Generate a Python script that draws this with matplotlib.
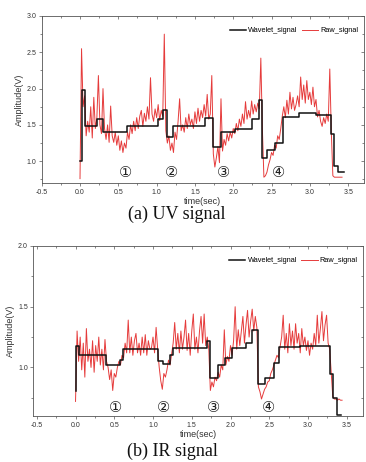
import numpy as np
import matplotlib
matplotlib.use("Agg")
import matplotlib.pyplot as plt
from matplotlib.ticker import MultipleLocator

# ---------------- data ----------------
DT = 0.02  # raw sampling step (s)

uv_raw = [
    0.76, 2.55, 1.75, 1.90, 1.35, 1.55, 1.40, 1.75, 1.32, 1.88,
    1.45, 1.60, 2.18, 1.50, 1.38, 2.00, 1.45, 1.30, 1.50, 1.26,
    1.76, 1.35, 1.26, 1.40, 1.22, 1.35, 1.15, 1.28, 1.12, 1.25,
    1.18, 1.40, 1.30, 1.50, 1.38, 1.55, 1.42, 1.60, 1.45, 1.62,
    1.70, 1.48, 1.66, 1.55, 1.75, 1.58, 2.15, 1.65, 1.55, 1.72,
    1.60, 1.78, 1.56, 1.70, 1.62, 2.75, 1.42, 1.25, 1.35, 1.15,
    1.25, 1.12, 1.40, 1.30, 1.55, 1.86, 1.42, 1.50, 1.40, 1.60,
    1.45, 1.65, 1.50, 1.58, 1.45, 1.68, 1.52, 1.73, 1.55, 1.70,
    1.60, 1.78, 1.62, 1.92, 1.58, 1.65, 2.18, 1.10, 0.92, 1.05,
    1.20, 0.98, 1.86, 1.14, 1.30, 1.22, 1.38, 1.28, 1.40, 1.32,
    1.45, 1.38, 1.52, 1.42, 1.58, 1.48, 1.65, 1.52, 1.82, 1.58,
    1.70, 1.60, 1.83, 1.65, 1.78, 1.68, 1.80, 1.72, 2.42, 1.45,
    0.78, 0.80, 0.85, 0.95, 1.02, 1.12, 1.08, 1.22, 1.18, 1.35,
    1.30, 1.45, 1.62, 1.75, 1.60, 1.84, 1.65, 1.95, 1.72, 1.88,
    1.70, 1.78, 1.90, 1.75, 2.16, 1.85, 2.05, 1.80, 2.11, 1.85,
    1.95, 1.78, 2.02, 1.75, 1.85, 1.61, 1.70, 1.55, 1.48, 1.60,
    1.52, 1.65, 1.55, 2.27, 1.40, 0.80, 0.78, 0.78, 0.78, 0.78,
    0.78, 0.78,
]

uv_wav_t = [0.0, 0.02, 0.06, 0.22, 0.30, 0.61, 1.02, 1.08, 1.13, 1.22, 1.63,
            1.74, 1.84, 2.02, 2.24, 2.33, 2.37, 2.38, 2.44, 2.54, 2.65, 2.86,
            3.08, 3.28, 3.31, 3.37, 3.44]
uv_wav_v = [1.0, 1.98, 1.48, 1.58, 1.40, 1.48, 1.58, 1.70, 1.34, 1.48, 1.60,
            1.20, 1.40, 1.45, 1.58, 1.84, 1.25, 1.04, 1.15, 1.25, 1.61, 1.66,
            1.64, 1.38, 0.94, 0.85, 0.85]

ir_raw = [
    0.72, 1.30, 1.05, 1.25, 0.98, 1.20, 0.92, 1.32, 1.05, 1.15,
    1.00, 1.22, 0.96, 1.18, 1.05, 1.25, 1.02, 1.15, 0.98, 1.23,
    1.05, 1.00, 0.90, 0.98, 0.81, 0.95, 0.92, 1.00, 1.05, 1.02,
    1.10, 1.08, 1.20, 1.12, 1.39, 1.12, 1.25, 1.10, 1.22, 1.28,
    1.12, 1.20, 1.10, 1.25, 1.12, 1.27, 1.10, 1.22, 1.15, 1.16,
    1.25, 1.12, 1.33, 1.15, 1.00, 0.89, 0.82, 0.95, 0.92, 0.98,
    1.06, 1.02, 1.11, 1.20, 1.37, 1.15, 1.28, 1.12, 1.30, 1.15,
    1.25, 1.39, 1.14, 1.28, 1.10, 1.30, 1.44, 1.15, 1.25, 1.12,
    1.30, 1.42, 1.20, 1.44, 1.18, 1.25, 1.15, 0.81, 0.88, 0.84,
    0.92, 0.89, 0.96, 0.92, 1.02, 0.98, 1.31, 1.02, 1.09, 1.05,
    1.18, 1.10, 1.22, 1.50, 1.15, 1.31, 1.18, 1.30, 1.42, 1.20,
    1.35, 1.47, 1.25, 1.38, 1.48, 1.30, 1.42, 1.33, 0.84, 0.80,
    0.74, 0.78, 0.82, 0.84, 0.88, 0.89, 0.95, 0.98, 1.02, 1.06,
    1.10, 1.08, 1.17, 1.25, 1.43, 1.15, 1.28, 1.12, 1.36, 1.18,
    1.30, 1.15, 1.36, 1.20, 1.28, 1.12, 1.32, 1.18, 1.25, 1.14,
    1.22, 1.10, 1.20, 1.15, 1.28, 1.18, 1.43, 1.20, 1.32, 1.46,
    1.22, 1.35, 1.43, 1.20, 1.15, 0.95, 0.76, 0.74, 0.74, 0.73,
    0.74, 0.73, 0.73,
]

ir_wav_t = [0.0, 0.01, 0.04, 0.39, 0.57, 0.61, 1.07, 1.13, 1.22, 1.26, 1.70,
            1.73, 1.84, 1.93, 2.02, 2.20, 2.28, 2.35, 2.44, 2.56, 2.63, 2.90,
            3.28, 3.32, 3.37, 3.43]
ir_wav_v = [0.81, 1.18, 1.10, 1.02, 1.06, 1.155, 1.05, 1.03, 1.10, 1.16, 1.22,
            0.91, 1.02, 1.08, 1.16, 1.20, 1.31, 0.865, 0.915, 1.04, 1.165, 1.175,
            0.95, 0.75, 0.61, 0.61]

markers = ["①", "②", "③", "④"]
uv_marker_t = [0.59, 1.19, 1.87, 2.59]
ir_marker_t = [0.51, 1.13, 1.78, 2.49]

# ---------------- figure ----------------
W, H = 366, 462
fig = plt.figure(figsize=(W / 100, H / 100), dpi=100)
fig.patch.set_facecolor("white")

TXT = "#333333"
SPINE = "#555555"
RED = "#e32626"
SANS = ["Liberation Sans", "DejaVu Sans"]
SERIF = ["Liberation Serif", "DejaVu Serif"]
CIRC = ["DejaVu Sans", "Noto Sans CJK SC"]


def axes_px(left, top, right, bottom):
    return fig.add_axes([left / W, 1 - bottom / H, (right - left) / W, (bottom - top) / H])


def style(ax, xlim, ylim):
    ax.set_xlim(*xlim)
    ax.set_ylim(*ylim)
    ax.xaxis.set_major_locator(MultipleLocator(0.5))
    ax.xaxis.set_minor_locator(MultipleLocator(0.25))
    ax.yaxis.set_major_locator(MultipleLocator(0.5))
    ax.yaxis.set_minor_locator(MultipleLocator(0.25))
    for s in ax.spines.values():
        s.set_color(SPINE)
        s.set_linewidth(0.6)
    ax.tick_params(which="both", direction="out", colors=SPINE, width=0.5,
                   labelcolor=TXT, labelsize=5, pad=1.5)
    ax.tick_params(which="major", length=2.5)
    ax.tick_params(which="minor", length=1.5)
    for lab in ax.get_xticklabels() + ax.get_yticklabels():
        lab.set_family(SANS)
    ax.yaxis.set_major_formatter(matplotlib.ticker.FormatStrFormatter("%.1f"))
    ax.xaxis.set_major_formatter(matplotlib.ticker.FormatStrFormatter("%.1f"))
    top = ax.secondary_xaxis("top")
    top.xaxis.set_major_locator(MultipleLocator(0.5))
    top.xaxis.set_minor_locator(MultipleLocator(0.25))
    top.tick_params(which="both", direction="in", colors=SPINE, width=0.5, labeltop=False)
    top.tick_params(which="major", length=2.5)
    top.tick_params(which="minor", length=1.5)
    top.spines["top"].set_visible(False)
    right = ax.secondary_yaxis("right")
    right.yaxis.set_major_locator(MultipleLocator(0.5))
    right.yaxis.set_minor_locator(MultipleLocator(0.25))
    right.tick_params(which="both", direction="in", colors=SPINE, width=0.5, labelright=False)
    right.tick_params(which="major", length=2.5)
    right.tick_params(which="minor", length=1.5)
    right.spines["right"].set_visible(False)


def panel(ax, raw, wt, wv, mt, my):
    t = np.arange(len(raw)) * DT
    lr, = ax.plot(t, raw, color=RED, lw=0.7, alpha=0.9, label="Raw_signal", zorder=2)
    lw, = ax.plot(wt, wv, color="#111111", lw=1.1, drawstyle="steps-post",
                  label="Wavelet_signal", zorder=3)
    for m, x in zip(markers, mt):
        ax.text(x, my, m, fontsize=10.5, family=CIRC, color="#222222",
                ha="center", va="center", zorder=4)
    ax.legend(handles=[lw, lr], loc="upper right", bbox_to_anchor=(1.0, 0.965), ncol=2,
              frameon=False, prop={"family": SANS, "size": 5.3},
              handlelength=2.2, handletextpad=0.3, columnspacing=0.6, borderaxespad=0.3)
    ax.set_ylabel("Amplitude(V)", fontsize=6.5, family=SANS, color=TXT, labelpad=2)
    ax.set_xlabel("time(sec)", fontsize=6.5, family=SANS, color=TXT, labelpad=1)


# panel (a) UV
ax1 = axes_px(41.7, 16, 363.5, 183)
style(ax1, (-0.5, 3.70), (0.7, 3.0))
panel(ax1, uv_raw, uv_wav_t, uv_wav_v, uv_marker_t, 0.85)
fig.text(177 / W, 1 - 214 / H, "(a) UV signal", fontsize=13, family=SERIF,
         color="#111111", ha="center", va="center")

# panel (b) IR
ax2 = axes_px(33.3, 246, 363, 416)
style(ax2, (-0.545, 3.71), (0.6, 2.0))
panel(ax2, ir_raw, ir_wav_t, ir_wav_v, ir_marker_t, 0.67)
fig.text(172 / W, 1 - 451 / H, "(b) IR signal", fontsize=13, family=SERIF,
         color="#111111", ha="center", va="center")

fig.savefig("out.png", dpi=100, facecolor="white")
